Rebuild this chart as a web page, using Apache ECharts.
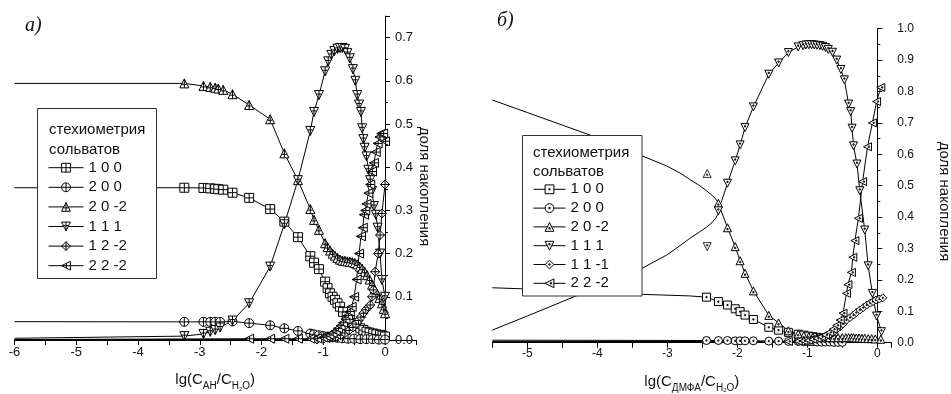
<!DOCTYPE html>
<html><head><meta charset="utf-8">
<script src="https://cdn.jsdelivr.net/npm/echarts@6/dist/echarts.min.js"></script>
<style>html,body{margin:0;padding:0;background:#fff}#c{width:951px;height:394px}</style>
</head><body><div id="c"></div>
<script>
// ---------- Panel а) : lg(C_AH / C_H2O) ----------
const namesA = ['1 0 0', '2 0 0', '2 0 -2', '1 1 1', '1 2 -2', '2 2 -2'];
const a100 = [[-6,0.3525],[-3.25,0.3525],[-2.94,0.352],[-2.83,0.351],[-2.75,0.35],[-2.7,0.349],[-2.62,0.348],[-2.47,0.341],[-2.2,0.329],[-1.86,0.303],[-1.63,0.274],[-1.41,0.238],[-1.21,0.194],[-1.15,0.179],[-1.07,0.164],[-0.97,0.135],[-0.93,0.12],[-0.89,0.108],[-0.85,0.1],[-0.81,0.093],[-0.77,0.085],[-0.73,0.077],[-0.68,0.065],[-0.62,0.054],[-0.57,0.046],[-0.51,0.039],[-0.46,0.033],[-0.4,0.027],[-0.35,0.023],[-0.3,0.019],[-0.25,0.017],[-0.19,0.015],[-0.14,0.013],[-0.08,0.012],[-0.04,0.01],[0,0.008]];
const a200 = [[-6,0.0424],[-3.25,0.042],[-2.94,0.042],[-2.83,0.042],[-2.75,0.042],[-2.67,0.042],[-2.47,0.043],[-2.2,0.039],[-1.86,0.034],[-1.63,0.027],[-1.41,0.021],[-1.21,0.015],[-1.15,0.013],[-1.07,0.011],[-1.0,0.009],[-0.93,0.008],[-0.85,0.006],[-0.77,0.005],[-0.69,0.004],[-0.6,0.003],[-0.5,0.003],[-0.4,0.002],[-0.3,0.002],[-0.2,0.002],[-0.1,0.001],[0,0.001]];
const a20m2 = [[-6,0.594],[-3.25,0.594],[-2.94,0.588],[-2.83,0.586],[-2.75,0.584],[-2.7,0.582],[-2.62,0.579],[-2.47,0.569],[-2.2,0.544],[-1.86,0.511],[-1.63,0.432],[-1.41,0.37],[-1.21,0.303],[-1.15,0.278],[-1.07,0.255],[-0.97,0.224],[-0.93,0.215],[-0.89,0.207],[-0.85,0.2],[-0.81,0.195],[-0.77,0.19],[-0.73,0.186],[-0.69,0.184],[-0.65,0.183],[-0.61,0.182],[-0.57,0.181],[-0.53,0.18],[-0.49,0.178],[-0.45,0.175],[-0.41,0.17],[-0.37,0.165],[-0.33,0.158],[-0.29,0.15],[-0.25,0.14],[-0.21,0.128],[-0.17,0.118],[-0.13,0.108],[-0.09,0.097],[-0.05,0.085],[-0.02,0.072],[0,0.062]];
const a111 = [[-6,0.004],[-3.25,0.009],[-2.94,0.014],[-2.83,0.019],[-2.75,0.023],[-2.67,0.029],[-2.47,0.045],[-2.2,0.085],[-1.86,0.17],[-1.63,0.268],[-1.41,0.37],[-1.21,0.484],[-1.15,0.528],[-1.07,0.567],[-0.97,0.622],[-0.92,0.645],[-0.87,0.66],[-0.82,0.669],[-0.77,0.674],[-0.73,0.676],[-0.69,0.676],[-0.65,0.674],[-0.61,0.664],[-0.57,0.652],[-0.52,0.627],[-0.48,0.6],[-0.45,0.567],[-0.42,0.545],[-0.39,0.528],[-0.37,0.49],[-0.35,0.465],[-0.33,0.445],[-0.3,0.425],[-0.27,0.394],[-0.24,0.37],[-0.21,0.345],[-0.18,0.31],[-0.15,0.29],[-0.12,0.26],[-0.08,0.2],[-0.05,0.139],[0,0.1]];
const a12m2 = [[-6,0.001],[-1.1,0.001],[-1.0,0.002],[-0.9,0.004],[-0.8,0.007],[-0.72,0.011],[-0.65,0.016],[-0.58,0.022],[-0.52,0.029],[-0.47,0.037],[-0.43,0.045],[-0.39,0.053],[-0.35,0.062],[-0.31,0.07],[-0.27,0.076],[-0.24,0.081],[-0.21,0.1],[-0.19,0.116],[-0.16,0.158],[-0.11,0.2],[-0.08,0.243],[-0.05,0.293],[0,0.36]];
const a22m2 = [[-6,0.001],[-2.2,0.003],[-1.86,0.003],[-1.63,0.003],[-1.41,0.003],[-1.21,0.003],[-1.1,0.004],[-1.0,0.006],[-0.95,0.009],[-0.9,0.012],[-0.85,0.016],[-0.8,0.021],[-0.76,0.027],[-0.72,0.033],[-0.68,0.04],[-0.64,0.048],[-0.6,0.057],[-0.57,0.066],[-0.54,0.077],[-0.5,0.1],[-0.46,0.14],[-0.42,0.2],[-0.39,0.24],[-0.36,0.26],[-0.34,0.29],[-0.32,0.3],[-0.3,0.315],[-0.27,0.34],[-0.24,0.36],[-0.21,0.39],[-0.18,0.41],[-0.15,0.435],[-0.12,0.455],[-0.09,0.47],[-0.06,0.478],[-0.03,0.478],[0,0.46]];

// ---------- Panel б) : lg(C_ДМФА / C_H2O) ----------
const namesB = ['1 0 0 ', '2 0 0 ', '2 0 -2 ', '1 1 1 ', '1 1 -1 ', '2 2 -2 '];
const b100 = [[-5.5,0.175],[-5.0,0.171],[-4.4,0.166],[-3.9,0.16],[-3.36,0.154],[-2.68,0.149],[-2.44,0.145],[-2.27,0.131],[-2.14,0.12],[-2.03,0.108],[-1.96,0.099],[-1.89,0.088],[-1.77,0.074],[-1.55,0.049],[-1.41,0.04],[-1.27,0.033],[-1.13,0.027],[-1.05,0.024],[-0.98,0.021],[-0.92,0.019],[-0.86,0.017],[-0.8,0.015],[-0.74,0.013],[-0.68,0.011],[-0.62,0.009],[-0.56,0.008]];
const b200 = [[-5.5,0.008],[-2.44,0.007],[-2.27,0.007],[-2.14,0.007],[-2.03,0.006],[-1.96,0.006],[-1.89,0.006],[-1.77,0.006],[-1.55,0.005],[-1.41,0.005],[-1.27,0.004],[-1.13,0.004],[-1.05,0.003],[-0.98,0.003],[-0.92,0.003],[-0.86,0.002],[-0.8,0.002],[-0.74,0.002],[-0.68,0.002],[-0.62,0.001],[-0.56,0.001],[-0.5,0.001]];
const b20m2 = [[-5.5,0.773],[-5.0,0.733],[-4.5,0.693],[-4.1,0.661],[-3.7,0.627],[-3.36,0.595],[-3.01,0.563],[-2.8,0.538],[-2.68,0.52],[-2.55,0.502],[-2.44,0.484],[-2.36,0.469],[-2.31,0.458],[-2.28,0.449],[-2.27,0.444],[-2.14,0.366],[-2.03,0.306],[-1.96,0.261],[-1.89,0.221],[-1.77,0.165],[-1.55,0.087],[-1.41,0.063],[-1.27,0.038],[-1.13,0.028],[-1.05,0.022],[-0.98,0.019],[-0.92,0.018],[-0.86,0.017],[-0.8,0.016],[-0.74,0.016],[-0.68,0.016],[-0.62,0.016],[-0.56,0.016],[-0.5,0.016],[-0.45,0.016],[-0.41,0.016],[-0.37,0.016],[-0.34,0.016],[-0.3,0.015],[-0.26,0.015],[-0.22,0.014],[-0.18,0.014],[-0.13,0.013],[-0.08,0.013],[-0.03,0.012],[0.05,0.011]];
const b111 = [[-5.5,0.04],[-5.0,0.085],[-4.39,0.141],[-3.9,0.186],[-3.36,0.237],[-3.01,0.279],[-2.8,0.312],[-2.68,0.332],[-2.55,0.351],[-2.44,0.368],[-2.36,0.383],[-2.31,0.396],[-2.28,0.408],[-2.27,0.42],[-2.14,0.508],[-2.03,0.579],[-1.96,0.63],[-1.89,0.685],[-1.77,0.751],[-1.55,0.855],[-1.41,0.891],[-1.27,0.924],[-1.13,0.942],[-1.06,0.946],[-1.02,0.948],[-0.98,0.949],[-0.94,0.949],[-0.9,0.948],[-0.86,0.947],[-0.82,0.946],[-0.78,0.944],[-0.74,0.94],[-0.7,0.934],[-0.64,0.925],[-0.58,0.9],[-0.52,0.87],[-0.47,0.837],[-0.41,0.76],[-0.38,0.736],[-0.36,0.683],[-0.34,0.627],[-0.29,0.569],[-0.25,0.484],[-0.18,0.359],[-0.13,0.245],[-0.07,0.157],[-0.01,0.085],[0.06,0.035]];
const b11m1 = [[-5.5,0.003],[-1.13,0.004],[-1.05,0.005],[-0.98,0.007],[-0.92,0.009],[-0.86,0.011],[-0.8,0.015],[-0.74,0.02],[-0.68,0.026],[-0.63,0.033],[-0.58,0.042],[-0.53,0.051],[-0.49,0.06],[-0.44,0.072],[-0.39,0.08],[-0.34,0.088],[-0.3,0.096],[-0.25,0.104],[-0.2,0.112],[-0.15,0.12],[-0.1,0.126],[-0.06,0.131],[-0.02,0.136],[0.03,0.139],[0.08,0.143]];
const b22m2 = [[-5.5,0.003],[-1.27,0.004],[-1.13,0.005],[-1.05,0.006],[-0.98,0.008],[-0.92,0.011],[-0.86,0.014],[-0.8,0.019],[-0.74,0.025],[-0.68,0.033],[-0.63,0.043],[-0.58,0.055],[-0.53,0.072],[-0.49,0.094],[-0.44,0.157],[-0.42,0.185],[-0.37,0.224],[-0.35,0.272],[-0.32,0.325],[-0.27,0.396],[-0.21,0.513],[-0.14,0.624],[-0.07,0.7],[-0.01,0.768],[0.05,0.813]];
const b20m2Lone = [[-2.43,0.539]];
const b111Lone = [[-2.43,0.306]];

// leading points drawn only as line (no marker)
const plainA = [1, 1, 1, 1, 1, 1];
const plainB = [6, 1, 14, 13, 1, 1];

// ---------- styling ----------
const FONT = "'Liberation Sans', Arial, sans-serif";
const symA = [
  'path://M0,0L10,0L10,10L0,10Z M5,0L5,10 M0,5L10,5',
  'path://M0,5A5,5 0 1,1 10,5A5,5 0 1,1 0,5Z M5,0L5,10 M0,5L10,5',
  'path://M5,0L10,9L0,9Z M5,0L5,9 M2.5,5.5L7.5,5.5',
  'path://M0,0L10,0L5,9Z M5,0L5,9 M2.5,3.5L7.5,3.5',
  'path://M5,0L10,5L5,10L0,5Z M5,0L5,10 M0,5L10,5',
  'path://M0,5L9,0L9,10Z M0,5L9,5 M5,2.6L5,7.4'
];
const DOT = (x, y) => ` M${x - 0.7},${y - 0.7}L${x + 0.7},${y - 0.7}L${x + 0.7},${y + 0.7}L${x - 0.7},${y + 0.7}Z`;
const symB = [
  'path://M0,0L10,0L10,10L0,10Z' + DOT(5, 5),
  'path://M0,5A5,5 0 1,1 10,5A5,5 0 1,1 0,5Z' + DOT(5, 5),
  'path://M5,0L10,9L0,9Z' + DOT(5, 6),
  'path://M0,0L10,0L5,9Z' + DOT(5, 3),
  'path://M5,0L10,5L5,10L0,5Z' + DOT(5, 5),
  'path://M0,5L9,0L9,10Z' + DOT(6, 5)
];

function mk(name, pts, nPlain, symbol, size, idx) {
  const right = idx === 1;
  return {
    type: 'line', name, xAxisIndex: idx, yAxisIndex: idx,
    data: pts.map((p, i) => i < nPlain ? { value: p, symbol: 'none' } : { value: p }),
    symbol, symbolSize: size, showSymbol: true, showAllSymbol: true,
    smooth: false, clip: false,
    lineStyle: { color: '#000', width: 1 },
    itemStyle: { color: right ? '#f6f6f6' : '#fff', borderColor: '#000', borderWidth: 1 },
    emphasis: { disabled: true }, z: 3
  };
}
function lone(pts, symbol) {
  return {
    type: 'scatter', name: '_lone', xAxisIndex: 1, yAxisIndex: 1, data: pts,
    symbol, symbolSize: 8, itemStyle: { color: '#f6f6f6', borderColor: '#000', borderWidth: 1 },
    emphasis: { disabled: true }, z: 3
  };
}

const seriesA = [a100, a200, a20m2, a111, a12m2, a22m2];
const seriesB = [b100, b200, b20m2, b111, b11m1, b22m2];
const series = [];
seriesA.forEach((d, i) => series.push(mk(namesA[i], d, plainA[i], symA[i], 9, 0)));
seriesB.forEach((d, i) => series.push(mk(namesB[i], d, plainB[i], symB[i], 8, 1)));
series.push(lone(b20m2Lone, symB[2]));
series.push(lone(b111Lone, symB[3]));

const isInt = v => Math.abs(v - Math.round(v)) < 1e-6;
const fmtX = v => isInt(v) ? String(Math.round(v)) : '';
const fmtY = v => isInt(v * 10) ? v.toFixed(1) : '';

function xAx(idx, min, max, name, gap, labelMargin, fs) {
  return {
    gridIndex: idx, type: 'value', min, max, interval: 0.5,
    axisLine: { show: true, onZero: false, lineStyle: { color: '#000', width: 1 } },
    axisTick: { show: true, length: 5, lineStyle: { color: '#000', width: 1 } },
    axisLabel: { show: true, margin: labelMargin, fontSize: fs, color: '#111', fontFamily: FONT, formatter: fmtX },
    splitLine: { show: false },
    name, nameLocation: 'middle', nameGap: gap,
    nameTextStyle: {
      fontSize: 15, color: '#111', fontFamily: FONT,
      rich: {
        s: { fontSize: 10, color: '#111', fontFamily: FONT, padding: [13, 0, 0, 0] },
        t: { fontSize: 6, color: '#111', fontFamily: FONT, padding: [18, 0, 0, 0] }
      }
    }
  };
}
// y axis drawn at x = 0 (offset pulls it in from the grid's right edge)
function yAx(idx, max, offset, labelMargin, fs) {
  return {
    gridIndex: idx, type: 'value', min: 0, max, interval: 0.1, position: 'right', offset,
    axisLine: { show: true, onZero: false, lineStyle: { color: '#000', width: 1 } },
    axisTick: { show: true, length: 5, lineStyle: { color: '#000', width: 1 } },
    minorTick: { show: true, splitNumber: 2, length: 3, lineStyle: { color: '#000', width: 1 } },
    minorSplitLine: { show: false },
    axisLabel: { show: true, margin: labelMargin, fontSize: fs, color: '#111', fontFamily: FONT, formatter: fmtY },
    splitLine: { show: false }
  };
}

function legendFor(names, left, top, gap, w) {
  return {
    data: names, orient: 'vertical', left, top, padding: 0, itemGap: gap,
    itemWidth: w, itemHeight: 11, selectedMode: false, z: 100,
    textStyle: { fontSize: 15, lineHeight: 16, color: '#111', fontFamily: FONT },
    lineStyle: { color: '#000', width: 1 },
    itemStyle: { borderColor: '#000', borderWidth: 1 }
  };
}

const txt = (x, y, text, extra) => ({
  type: 'text', x, y, z: 60,
  style: Object.assign({ text, fontSize: 15, fontFamily: FONT, fill: '#111', verticalAlign: 'middle' }, extra || {})
});

const chart = echarts.init(document.getElementById('c'), null, { renderer: 'canvas' });
chart.setOption({
  backgroundColor: '#fff',
  animation: false,
  grid: [
    { left: 14.5, top: 16, width: 401.4, height: 324, outerBoundsMode: 'none' },
    { left: 492.3, top: 28.7, width: 399, height: 314, outerBoundsMode: 'none' }
  ],
  xAxis: [
    xAx(0, -6, 0.5, 'lg(C{s|АН}/C{s|H}{t|2}{s|O})', 28, 6, 13),
    xAx(1, -5.5, 0.2, 'lg(C{s|ДМФА}/C{s|H}{t|2}{s|O})', 27, 5, 12)
  ],
  yAxis: [ yAx(0, 0.75, -30.9, 10, 13), yAx(1, 1.0, -14, 20, 12) ],
  legend: [
    legendFor(namesA, 48, 159.7, 3.6, 35),
    legendFor(namesB, 533, 181.3, 2.8, 32)
  ],
  graphic: [
    { type: 'rect', z: 50, shape: { x: 37.5, y: 108.5, width: 119, height: 170 }, style: { fill: '#fff', stroke: '#333', lineWidth: 1 } },
    txt(49, 130, 'стехиометрия'),
    txt(49, 149.5, 'сольватов'),
    { type: 'rect', z: 50, shape: { x: 522.5, y: 135.5, width: 119.5, height: 160.5 }, style: { fill: '#fff', stroke: '#333', lineWidth: 1 } },
    txt(533, 153.3, 'стехиометрия'),
    txt(533, 171.7, 'сольватов'),
    txt(25, 25.5, 'а)', { fontSize: 20, fontStyle: 'italic', fontFamily: "'Liberation Serif', 'Times New Roman', serif" }),
    txt(497, 21, 'б)', { fontSize: 20, fontStyle: 'italic', fontFamily: "'Liberation Serif', 'Times New Roman', serif" }),
    { type: 'text', x: 424, y: 186.5, rotation: -Math.PI / 2, z: 60,
      style: { text: 'доля накопления', fontSize: 15, fontFamily: FONT, fill: '#111', align: 'center', verticalAlign: 'middle' } },
    { type: 'text', x: 944, y: 201.5, rotation: -Math.PI / 2, z: 60,
      style: { text: 'доля накопления', fontSize: 15, fontFamily: FONT, fill: '#111', align: 'center', verticalAlign: 'middle' } }
  ],
  series
});
</script>
</body></html>
